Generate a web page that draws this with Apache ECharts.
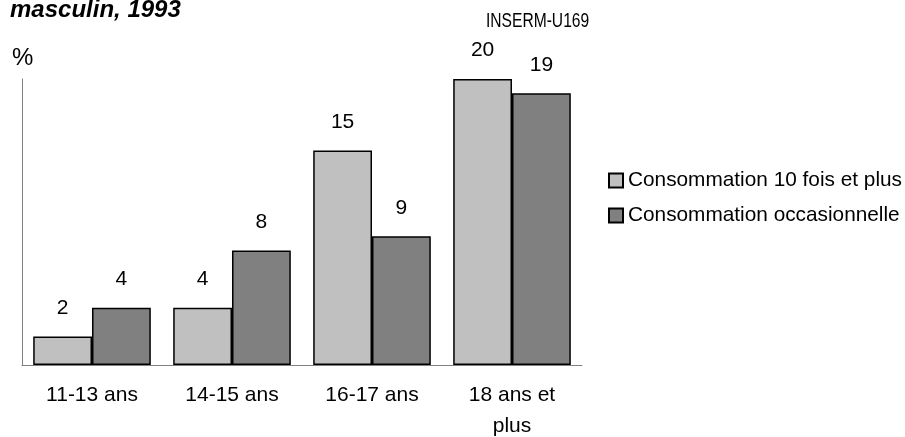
<!DOCTYPE html>
<html><head><meta charset="utf-8">
<script src="https://cdn.jsdelivr.net/npm/echarts@6/dist/echarts.min.js"></script>
<style>html,body{margin:0;padding:0;background:#fff}#c{width:905px;height:437px}</style>
</head><body><div id="c"></div>
<script>
const categories = ['11-13 ans', '14-15 ans', '16-17 ans', '18 ans et\nplus'];
const freqValues = [2, 4, 15, 20];
const occValues = [4, 8, 9, 19];
const seriesNames = ['Consommation 10 fois et plus', 'Consommation occasionnelle'];

const chart = echarts.init(document.getElementById('c'));
const font = 'Liberation Sans, Arial, sans-serif';
const lbl = {show: true, position: 'top', distance: 18, color: '#000', fontSize: 21, fontFamily: font};
chart.setOption({
  animation: false,
  graphic: [
    {type: 'text', left: 10, top: -2, style: {text: 'masculin, 1993', font: 'italic bold 24px Liberation Sans, Arial', fill: '#000'}},
    {type: 'text', left: 486, top: 11, scaleX: 0.78, style: {text: 'INSERM-U169', font: '20px Liberation Sans, Arial', fill: '#000'}},
    {type: 'text', left: 12, top: 46, style: {text: '%', font: '24px Liberation Sans, Arial', fill: '#000'}}
  ],
  legend: {
    orient: 'vertical', left: 608, top: 170, padding: 0, itemGap: 14, itemWidth: 14, itemHeight: 14,
    icon: 'rect',
    textStyle: {fontSize: 20.8, fontFamily: font, color: '#000'},
    data: seriesNames
  },
  grid: {left: 22, right: 323, top: 79, bottom: 72, containLabel: false, outerBoundsMode: 'none'},
  xAxis: {
    type: 'category', data: categories,
    axisLine: {lineStyle: {color: '#808080', width: 1}},
    axisTick: {show: false},
    axisLabel: {color: '#000', fontSize: 21, fontFamily: font, margin: 15, lineHeight: 31}
  },
  yAxis: {
    type: 'value', min: 0, max: 20,
    axisLine: {show: true, lineStyle: {color: '#808080', width: 1}},
    axisTick: {show: false}, axisLabel: {show: false}, splitLine: {show: false}
  },
  series: [
    {name: seriesNames[0], type: 'bar', data: freqValues, barGap: '0%', barCategoryGap: '16%',
     itemStyle: {color: '#c0c0c0', borderColor: '#000', borderWidth: 1.5}, label: lbl},
    {name: seriesNames[1], type: 'bar', data: occValues,
     itemStyle: {color: '#808080', borderColor: '#000', borderWidth: 1.5}, label: lbl}
  ]
});
</script></body></html>
